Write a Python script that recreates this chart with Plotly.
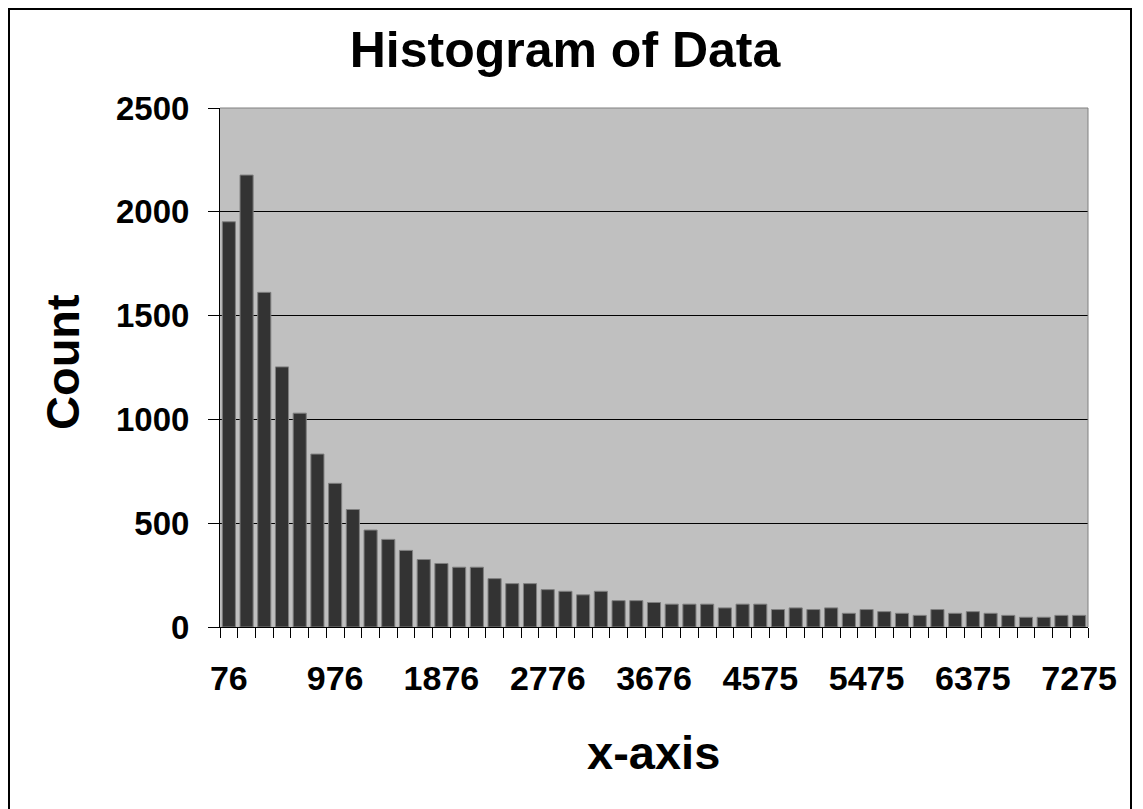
import plotly.graph_objects as go

# ---- data ----
bin_number = list(range(49))
counts = [1952, 2177, 1612, 1253, 1030, 833, 692, 566, 467, 422,
          369, 325, 306, 288, 288, 233, 209, 209, 180, 172,
          155, 172, 127, 127, 118, 110, 110, 110, 92, 110,
          110, 84, 92, 84, 92, 66, 84, 74, 66, 56,
          84, 66, 74, 66, 56, 47, 47, 56, 56]
tick_positions = [0, 6, 12, 18, 24, 30, 36, 42, 48]
tick_labels = ["76", "976", "1876", "2776", "3676", "4575", "5475", "6375", "7275"]
y_ticks = [0, 500, 1000, 1500, 2000, 2500]

FONT = "Liberation Sans, Arial, sans-serif"

# page has an 8px body margin: work in page pixels, convert to figure pixels
OFF = 8
W, H = 1143 - OFF, 809 - OFF
L, R, T, B = 220 - OFF, 1088 - OFF, 108 - OFF, 627 - OFF
pw, ph = R - L, B - T
def px(x): return (x - OFF - L) / pw   # x given in page pixels
def py(y): return (B - (y - OFF)) / ph  # y given in page pixels

fig = go.Figure(go.Bar(
    x=bin_number, y=counts,
    marker=dict(color="#333333", line=dict(color="#808080", width=1)),
    width=0.74,
))

fig.update_layout(
    width=W, height=H,
    margin=dict(l=L, r=W - R, t=T, b=H - B, pad=0),
    paper_bgcolor="white", plot_bgcolor="#C0C0C0",
    showlegend=False,
    font=dict(family=FONT, color="black"),
    title=dict(text="Histogram of Data", x=(565 - OFF) / W, xref="container", xanchor="center",
               y=1 - (49 - OFF) / H, yref="container", yanchor="middle",
               font=dict(family=FONT, size=50, weight=700, color="black")),
)

fig.update_xaxes(
    range=[-0.5, 48.5], tickmode="array", tickvals=tick_positions, ticktext=tick_labels,
    ticks="", showgrid=False, zeroline=False,
    showline=True, linecolor="black", linewidth=1,
    tickfont=dict(family=FONT, size=34, weight=700, color="black"),
    ticklabelstandoff=21,
    minor=dict(ticks="outside", tick0=0.5, dtick=1, ticklen=10, tickcolor="black",
               tickwidth=1, showgrid=False),
)
fig.update_yaxes(
    range=[0, 2500], tickmode="array", tickvals=y_ticks,
    ticks="outside", ticklen=11, tickcolor="black", tickwidth=1,
    showgrid=True, gridcolor="black", gridwidth=1, zeroline=False,
    showline=True, linecolor="black", linewidth=1,
    tickfont=dict(family=FONT, size=33, weight=700, color="black"),
    ticklabelstandoff=12,
)

# axis titles
fig.add_annotation(text="Count", x=px(62), y=py(362), xref="paper", yref="paper",
                   textangle=-90, showarrow=False, xanchor="center", yanchor="middle",
                   font=dict(family=FONT, size=47, weight=700, color="black"))
fig.add_annotation(text="x-axis", x=px(653), y=py(752), xref="paper", yref="paper",
                   showarrow=False, xanchor="center", yanchor="middle",
                   font=dict(family=FONT, size=47, weight=700, color="black"))

# gray top / right border of plot area
fig.add_shape(type="line", xref="paper", yref="paper", x0=0, x1=1, y0=1, y1=1,
              line=dict(color="#808080", width=1), layer="above")
fig.add_shape(type="line", xref="paper", yref="paper", x0=1, x1=1, y0=0, y1=1,
              line=dict(color="#808080", width=1), layer="above")
# outer chart border
fig.add_shape(type="rect", xref="paper", yref="paper",
              x0=px(OFF + 1), x1=px(1131), y0=py(840), y1=py(OFF + 1),
              line=dict(color="black", width=2), fillcolor="rgba(0,0,0,0)", layer="above")

fig.write_html("out.html")
